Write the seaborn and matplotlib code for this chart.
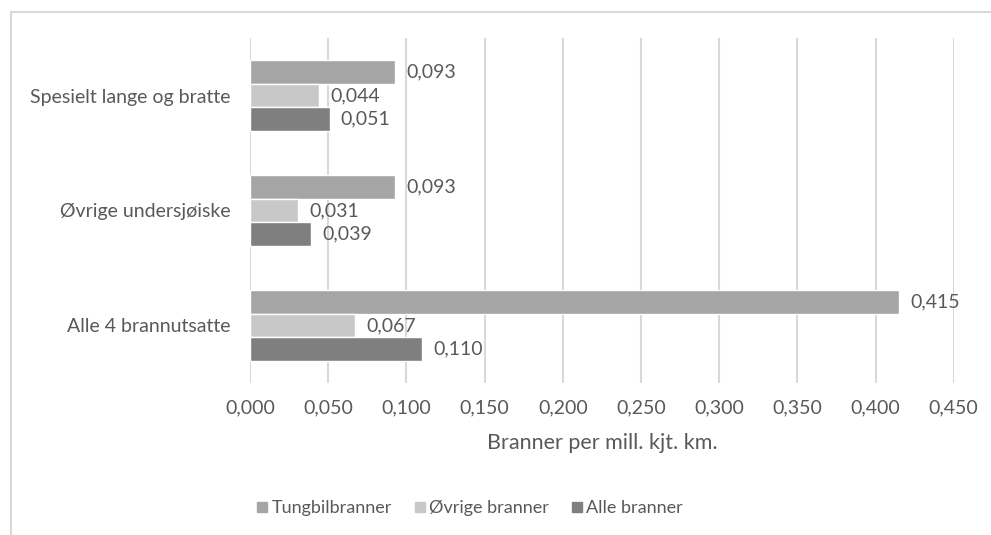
import pandas as pd
import matplotlib.pyplot as plt
import matplotlib.lines as mlines
import seaborn as sns

# Data
categories = ['Spesielt lange og bratte', 'Øvrige undersjøiske', 'Alle 4 brannutsatte']
series = ['Tungbilbranner', 'Øvrige branner', 'Alle branner']
tungbil = [0.093, 0.093, 0.415]
ovrige = [0.044, 0.031, 0.067]
alle = [0.051, 0.039, 0.110]
xticks = [0.0, 0.05, 0.1, 0.15, 0.2, 0.25, 0.3, 0.35, 0.4, 0.45]

colors = ['#A5A5A5', '#C8C8C8', '#7F7F7F']
text_col = '#595959'

df = pd.DataFrame({
    'kategori': categories * 3,
    'serie': [s for s in series for _ in categories],
    'verdi': tungbil + ovrige + alle,
})

sns.set_style('white')
plt.rcParams['font.family'] = ['Lato', 'DejaVu Sans']
plt.rcParams['font.size'] = 14

fig = plt.figure(figsize=(9.91, 5.35), dpi=100)
ax = fig.add_axes([250 / 991, 1 - 383 / 535, 703.7 / 991, 345 / 535])

sns.barplot(data=df, y='kategori', x='verdi', hue='serie', order=categories,
            hue_order=series, palette=colors, orient='h', width=0.61,
            saturation=1, ax=ax, legend=False)

def fmt(v):
    return f'{v:.3f}'.replace('.', ',')

for cont in ax.containers:
    ax.bar_label(cont, labels=[fmt(b.get_width()) for b in cont],
                 padding=8, color=text_col, fontsize=14)

ax.set_xlim(0, 0.45)
ax.set_ylim(2.5, -0.5)
ax.set_xticks(xticks)
ax.set_xticklabels([fmt(t) for t in xticks], color=text_col, fontsize=14)
ax.tick_params(axis='y', length=0, pad=14, labelcolor=text_col, labelsize=14)
ax.tick_params(axis='x', length=0, pad=12)
ax.set_ylabel('')
ax.set_xlabel('Branner per mill. kjt. km.', color=text_col, fontsize=15.5, labelpad=12)
ax.grid(axis='x', color='#D9D9D9', linewidth=1.5)
ax.set_axisbelow(True)
sns.despine(ax=ax, left=True, bottom=True)

# legend with square markers
handles = [mlines.Line2D([], [], marker='s', linestyle='', markersize=7,
                         color=c) for c in colors]
fig.legend(handles, series, loc='center', bbox_to_anchor=(470 / 991, 1 - 508 / 535),
           ncol=3, frameon=False, handlelength=0.5, handletextpad=0.25,
           columnspacing=1.3, labelcolor=text_col, fontsize=13)

# outer chart frame (only top and left edges visible in the crop)
fig.add_artist(mlines.Line2D([11 / 991, 1], [1 - 12 / 535] * 2,
                             color='#D9D9D9', linewidth=1.5, transform=fig.transFigure))
fig.add_artist(mlines.Line2D([11 / 991] * 2, [0, 1 - 12 / 535],
                             color='#D9D9D9', linewidth=1.5, transform=fig.transFigure))

fig.savefig('out.png', dpi=100)
